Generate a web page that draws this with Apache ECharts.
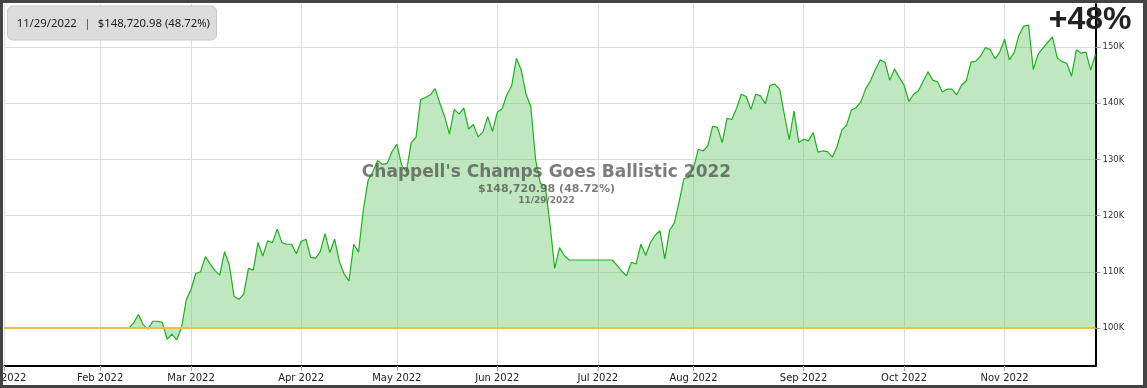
<!DOCTYPE html>
<html>
<head>
<meta charset="utf-8">
<script src="https://cdn.jsdelivr.net/npm/echarts@6/dist/echarts.min.js"></script>
<style>
html,body{margin:0;padding:0;background:#fff;}
#frame{width:1147px;height:388px;box-sizing:border-box;border-style:solid;border-color:#444;border-width:3px 4px 3px 3px;background:#fff;}
#chart{width:1140px;height:382px;}
</style>
</head>
<body>
<div id="frame"><div id="chart"></div></div>
<script>
// Values in thousands of dollars, one per trading day
const jan = [100,100,100,100,100,100,100,100,100,100,100,100,100,100,100,100,100,100,100,100];
const feb = [100,100,100,100,100,100,100,100.9,102.4,100.6,99.8,101.2,101.2,101.0,98.0,98.9,97.9,100.0,105.0];
const mar = [106.9,109.7,110.0,112.7,111.4,110.2,109.4,113.6,111.2,105.6,105.1,106.0,110.6,110.3,115.2,112.8,115.5,115.2,117.6,115.2,114.9,114.9,113.2];
const apr = [115.4,115.8,112.6,112.4,113.6,116.8,113.4,115.8,111.8,109.6,108.4,114.9,113.5,121.0,126.3,127.8,129.8,129.1,129.3,131.4];
const may = [132.7,129.0,127.8,133.0,133.9,140.7,141.0,141.5,142.6,140.0,137.6,134.5,138.9,138.1,139.1,135.4,136.2,134.0,134.9,137.6,135.0];
const jun = [138.4,139.0,141.5,143.1,148.0,145.9,141.6,139.4,129.9,125.7,125.4,118.5,110.6,114.3,112.9,112.1,112.1,112.1,112.1,112.1,112.1];
const jul = [112.1,112.1,112.1,112.1,111.2,110.1,109.3,111.7,111.4,114.9,112.9,115.2,116.5,117.3,112.3,117.4,118.7,122.5,126.6,126.8];
const aug = [128.5,131.8,131.5,132.4,135.9,135.7,133.0,137.3,137.1,139.1,141.6,141.2,138.9,141.6,141.3,139.9,143.2,143.4,142.5,137.9,133.5,138.6,133.0];
const sep = [133.6,133.3,134.8,131.3,131.5,131.4,130.4,132.3,135.2,136.1,138.8,139.2,140.3,142.6,144.0,146.0,147.7,147.3,144.1,146.1,144.6];
const oct = [143.2,140.3,141.6,142.2,143.9,145.6,144.1,143.8,142.0,142.5,142.5,141.5,143.2,144.0,147.3,147.5,148.4,149.9,149.5,147.9,149.1];
const nov = [151.4,147.7,149.0,152.1,153.7,153.9,146.0,148.7,149.8,150.8,151.8,148.1,147.4,147.1,144.8,149.5,148.9,149.1,145.9,148.72];

const holidays = ['2022-01-17','2022-02-21','2022-04-15','2022-05-30','2022-06-20','2022-07-04','2022-09-05','2022-11-24'];
const monthNames = ['Jan','Feb','Mar','Apr','May','Jun','Jul','Aug','Sep','Oct','Nov','Dec'];
const startDate = '2022-01-03', endDate = '2022-11-29';
const baseline = 100;
const titleText = "Chappell's Champs Goes Ballistic 2022";
const valueText = "$148,720.98 (48.72%)";
const dateText = "11/29/2022";
const gainText = "+48%";

// trading-day categories
const dates = [];
for (let d = new Date(startDate + 'T00:00:00Z'); d <= new Date(endDate + 'T00:00:00Z'); d.setUTCDate(d.getUTCDate() + 1)) {
  const wd = d.getUTCDay();
  const s = d.toISOString().slice(0, 10);
  if (wd === 0 || wd === 6 || holidays.includes(s)) continue;
  dates.push(s);
}
const values = [].concat(jan, feb, mar, apr, may, jun, jul, aug, sep, oct, nov);
const monthStart = new Set();
dates.forEach((s, i) => { if (i === 0 || dates[i - 1].slice(5, 7) !== s.slice(5, 7)) monthStart.add(i); });
const isStart = (i) => monthStart.has(i);

const chart = echarts.init(document.getElementById('chart'), null, { renderer: 'canvas' });
const axisFont = 'DejaVu Sans, Verdana, sans-serif';
const boxFont = 'Noto Sans, Open Sans, sans-serif';
chart.setOption({
  animation: false,
  grid: { left: 1.4, right: 47.5, top: 1, bottom: 19, containLabel: false, outerBoundsMode: 'none' },
  xAxis: {
    type: 'category',
    data: dates,
    boundaryGap: false,
    axisLine: { show: true, lineStyle: { color: '#000', width: 2 } },
    axisTick: { show: true, interval: isStart, length: 5, lineStyle: { color: '#aaa' } },
    axisLabel: {
      interval: isStart, margin: 7, fontSize: 10, color: '#222', fontFamily: axisFont, hideOverlap: false,
      formatter: (v) => monthNames[parseInt(v.slice(5, 7), 10) - 1] + ' ' + v.slice(0, 4)
    },
    splitLine: { show: true, interval: isStart, lineStyle: { color: '#dcdcdc', width: 1 } }
  },
  yAxis: {
    type: 'value',
    position: 'right',
    min: 93.24,
    max: 157.65,
    splitNumber: 5,
    axisLine: { show: true, lineStyle: { color: '#000', width: 2 } },
    axisTick: { show: true, length: 5, lineStyle: { color: '#999' } },
    axisLabel: {
      showMinLabel: false, showMaxLabel: false, margin: 7, fontSize: 8.5, color: '#333', fontFamily: axisFont,
      formatter: (v) => Math.round(v) + 'K'
    },
    splitLine: { show: true, showMinLine: false, showMaxLine: false, lineStyle: { color: '#dcdcdc', width: 1 } }
  },
  series: [{
    type: 'line',
    data: values,
    showSymbol: false,
    symbol: 'none',
    lineStyle: { color: '#1faf1f', width: 1.2 },
    areaStyle: { color: 'rgba(98,198,98,0.4)', opacity: 1, origin: baseline },
    markLine: {
      silent: true, symbol: ['none', 'none'], label: { show: false },
      lineStyle: { color: '#f0c040', width: 2, type: 'solid' },
      data: [{ yAxis: baseline }]
    },
    z: 2
  }],
  graphic: [
    {
      type: 'rect', z: 10,
      shape: { x: 4.5, y: 3, width: 209, height: 34, r: 5 },
      style: { fill: '#dcdcdc', stroke: '#c8c8c8', lineWidth: 1 }
    },
    {
      type: 'text', z: 11, x: 13.7, y: 20.5,
      style: {
        text: '{a|' + dateText + '}{b|  |  }{a|' + valueText + '}',
        verticalAlign: 'middle', align: 'left',
        rich: {
          a: { fontSize: 11.3, fontFamily: boxFont, fill: '#222' },
          b: { fontSize: 11.3, fontFamily: boxFont, fill: '#1f4e8c', padding: [0, 1.5] }
        }
      }
    },
    {
      type: 'text', z: 11, x: 1128.5, y: 17,
      style: { text: gainText, align: 'right', verticalAlign: 'middle', fontSize: 32, fontWeight: 'bold', fontFamily: 'Liberation Sans, Arial, sans-serif', fill: '#222' }
    },
    {
      type: 'text', z: 11, x: 543.5, y: 169.7,
      style: { text: titleText, align: 'center', verticalAlign: 'middle', fontSize: 17, fontWeight: 'bold', fontFamily: axisFont, fill: 'rgba(80,80,80,0.75)' }
    },
    {
      type: 'text', z: 11, x: 543.5, y: 186,
      style: { text: valueText, align: 'center', verticalAlign: 'middle', fontSize: 11, fontWeight: 'bold', fontFamily: axisFont, fill: 'rgba(80,80,80,0.75)' }
    },
    {
      type: 'text', z: 11, x: 543.5, y: 198,
      style: { text: dateText, align: 'center', verticalAlign: 'middle', fontSize: 9, fontWeight: 'bold', fontFamily: axisFont, fill: 'rgba(80,80,80,0.75)' }
    }
  ]
});
</script>
</body>
</html>
